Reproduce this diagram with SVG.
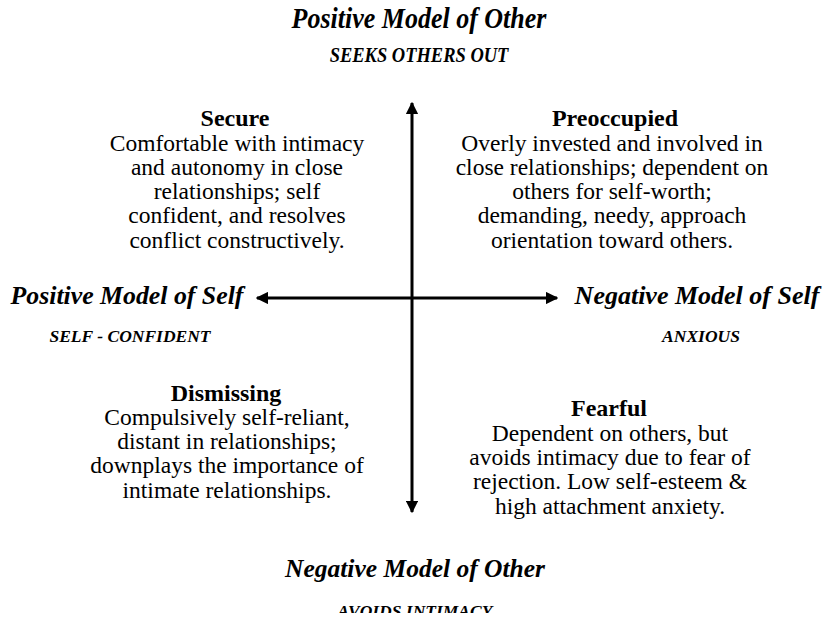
<svg xmlns="http://www.w3.org/2000/svg" width="833" height="622" viewBox="0 0 833 622">
<defs>
<style>
.ax{font-family:"Liberation Serif","Times New Roman",serif;font-weight:bold;font-style:italic;fill:#000;text-anchor:middle}
.h{font-family:"Liberation Serif","Times New Roman",serif;font-weight:bold;font-size:24px;fill:#000;text-anchor:middle}
.b{font-family:"Liberation Serif","Times New Roman",serif;font-size:23.5px;fill:#000;text-anchor:middle}
.ln{stroke:#000;stroke-width:3;fill:none}
</style>
<marker id="ah" viewBox="0 0 10 10" refX="9" refY="5" markerWidth="4.2" markerHeight="4.2" orient="auto-start-reverse" markerUnits="strokeWidth">
<path d="M0,0 L10,5 L0,10 Z" fill="#000"/>
</marker>
<clipPath id="clipb"><rect x="0" y="0" width="833" height="613"/></clipPath>
</defs>
<rect width="833" height="622" fill="#fff"/>
<g id="connectors">
<line class="ln" x1="412" y1="512" x2="412" y2="103" marker-start="url(#ah)" marker-end="url(#ah)"/>
<line class="ln" x1="257" y1="298" x2="557" y2="298" marker-start="url(#ah)" marker-end="url(#ah)"/>
</g>
<g id="axis-top">
<text class="ax" font-size="26" transform="translate(419,28) scale(1,1.12)">Positive Model of Other</text>
<text class="ax" font-size="18.5" transform="translate(419,62) scale(1,1.12)">SEEKS OTHERS OUT</text>
</g>
<g id="axis-left">
<text class="ax" font-size="25.8" x="127" y="304">Positive Model of Self</text>
<text class="ax" font-size="17.5" x="130" y="342">SELF - CONFIDENT</text>
</g>
<g id="axis-right">
<text class="ax" font-size="26" x="697" y="304">Negative Model of Self</text>
<text class="ax" font-size="17.5" x="701" y="342">ANXIOUS</text>
</g>
<g id="axis-bottom">
<text class="ax" font-size="25.5" x="415" y="577">Negative Model of Other</text>
<text class="ax" font-size="17.5" x="415" y="617" clip-path="url(#clipb)">AVOIDS INTIMACY</text>
</g>
<g id="secure">
<text class="h" x="235" y="126">Secure</text>
<text class="b" x="237" y="151">Comfortable with intimacy</text>
<text class="b" x="237" y="175">and autonomy in close</text>
<text class="b" x="237" y="199">relationships; self</text>
<text class="b" x="237" y="223">confident, and resolves</text>
<text class="b" x="237" y="248">conflict constructively.</text>
</g>
<g id="preoccupied">
<text class="h" x="615" y="126">Preoccupied</text>
<text class="b" x="612" y="151">Overly invested and involved in</text>
<text class="b" x="612" y="175">close relationships; dependent on</text>
<text class="b" x="612" y="199">others for self-worth;</text>
<text class="b" x="612" y="223">demanding, needy, approach</text>
<text class="b" x="612" y="248">orientation toward others.</text>
</g>
<g id="dismissing">
<text class="h" x="226" y="401">Dismissing</text>
<text class="b" x="227" y="425">Compulsively self-reliant,</text>
<text class="b" x="227" y="449">distant in relationships;</text>
<text class="b" x="227" y="473">downplays the importance of</text>
<text class="b" x="227" y="498">intimate relationships.</text>
</g>
<g id="fearful">
<text class="h" x="609" y="416">Fearful</text>
<text class="b" x="610" y="441">Dependent on others, but</text>
<text class="b" x="610" y="465">avoids intimacy due to fear of</text>
<text class="b" x="610" y="489">rejection. Low self-esteem &amp;</text>
<text class="b" x="610" y="514">high attachment anxiety.</text>
</g>
</svg>
